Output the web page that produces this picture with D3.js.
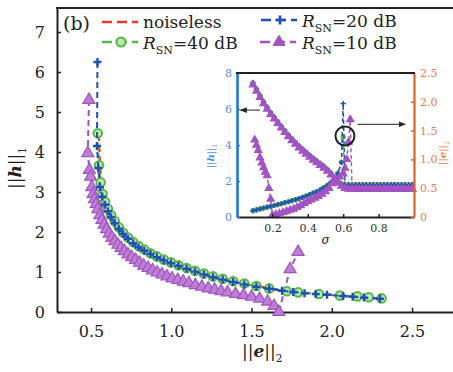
<!DOCTYPE html>
<html>
<head>
<meta charset="utf-8">
<script src="https://cdn.jsdelivr.net/npm/d3@7"></script>
<style>
  body { margin: 0; background: #fff; }
  svg { display: block; font-family: "DejaVu Serif", serif; }
</style>
</head>
<body>
<script>
const width = 453;
const height = 372;

// main plot: ||h||_1 against ||e||_2
const noiselessE = [0.548, 0.556, 0.566, 0.578, 0.595, 0.62, 0.66, 0.72, 0.8, 0.9, 1.0, 1.12, 1.26, 1.42, 1.6, 1.8, 2.0, 2.2, 2.3];
const noiselessH = [4.45, 3.65, 3.2, 2.92, 2.7, 2.5, 2.22, 1.92, 1.66, 1.42, 1.25, 1.08, 0.92, 0.73, 0.6, 0.49, 0.43, 0.37, 0.34];

const snr40E = [0.542, 0.55, 0.56, 0.572, 0.588, 0.605, 0.625, 0.648, 0.673, 0.7, 0.73, 0.762, 0.796, 0.832, 0.87, 0.91, 0.953, 0.998, 1.045, 1.095, 1.148, 1.203, 1.26, 1.32, 1.385, 1.455, 1.53, 1.61, 1.72, 1.79, 1.92, 2.05, 2.16, 2.23, 2.31];
const snr40H = [4.47, 3.67, 3.24, 2.95, 2.75, 2.58, 2.42, 2.27, 2.12, 1.98, 1.86, 1.75, 1.65, 1.56, 1.47, 1.39, 1.31, 1.24, 1.17, 1.1, 1.03, 0.96, 0.89, 0.83, 0.77, 0.71, 0.65, 0.59, 0.52, 0.49, 0.45, 0.41, 0.39, 0.37, 0.34];

const snr20E = [0.54, 0.537, 0.545, 0.556, 0.57, 0.587, 0.605, 0.625, 0.648, 0.673, 0.7, 0.73, 0.762, 0.796, 0.832, 0.87, 0.91, 0.953, 0.998, 1.045, 1.095, 1.148, 1.203, 1.26, 1.32, 1.385, 1.455, 1.53, 1.61, 1.69, 1.76, 1.83, 1.9, 1.97, 2.07, 2.13, 2.2, 2.3];
const snr20H = [6.25, 4.15, 3.6, 3.12, 2.88, 2.68, 2.52, 2.37, 2.22, 2.08, 1.95, 1.83, 1.72, 1.62, 1.53, 1.45, 1.37, 1.29, 1.22, 1.15, 1.08, 1.01, 0.94, 0.87, 0.81, 0.75, 0.69, 0.63, 0.58, 0.53, 0.5, 0.47, 0.45, 0.43, 0.4, 0.38, 0.36, 0.33];

const snr10E = [0.487, 0.48, 0.49, 0.497, 0.505, 0.513, 0.522, 0.532, 0.543, 0.555, 0.568, 0.582, 0.597, 0.613, 0.63, 0.648, 0.667, 0.687, 0.708, 0.73, 0.753, 0.777, 0.802, 0.828, 0.855, 0.883, 0.912, 0.942, 0.973, 1.005, 1.04, 1.075, 1.11, 1.15, 1.19, 1.23, 1.27, 1.31, 1.35, 1.4, 1.45, 1.5, 1.55, 1.6, 1.64, 1.67, 1.74, 1.79];
const snr10H = [5.3, 3.97, 3.55, 3.38, 3.12, 2.95, 2.82, 2.7, 2.57, 2.42, 2.3, 2.18, 2.07, 1.96, 1.86, 1.77, 1.68, 1.6, 1.52, 1.44, 1.37, 1.3, 1.23, 1.16, 1.1, 1.04, 0.99, 0.94, 0.89, 0.84, 0.8, 0.76, 0.72, 0.67, 0.63, 0.59, 0.56, 0.52, 0.49, 0.45, 0.42, 0.38, 0.33, 0.26, 0.15, 0.0, 1.07, 1.5];

const xTicks = [0.5, 1.0, 1.5, 2.0, 2.5];
const yTicks = [0, 1, 2, 3, 4, 5, 6, 7];

// inset: both norms against sigma
const inSigma = [0.09, 0.11, 0.13, 0.15, 0.17, 0.19, 0.21, 0.23, 0.25, 0.27, 0.29, 0.31, 0.33, 0.35, 0.37, 0.39, 0.41, 0.43, 0.45, 0.47, 0.49, 0.51, 0.53, 0.55, 0.57, 0.59, 0.61, 0.63, 0.65, 0.67, 0.69, 0.71, 0.73, 0.75, 0.77, 0.79, 0.81, 0.83, 0.85, 0.87, 0.89, 0.91, 0.93, 0.95, 0.97, 0.99];
const inH40 = [7.45, 7.1, 6.75, 6.4, 6.1, 5.8, 5.55, 5.3, 5.05, 4.8, 4.57, 4.35, 4.15, 3.95, 3.77, 3.6, 3.43, 3.27, 3.12, 2.97, 2.82, 2.65, 2.45, 2.22, 2.0, 1.85, 1.78, 1.78, 1.78, 1.78, 1.78, 1.78, 1.78, 1.78, 1.78, 1.78, 1.78, 1.78, 1.78, 1.78, 1.78, 1.78, 1.78, 1.78, 1.78, 1.78];
const inH10 = [7.35, 7.0, 6.65, 6.3, 6.0, 5.7, 5.45, 5.2, 4.95, 4.7, 4.47, 4.25, 4.05, 3.85, 3.67, 3.5, 3.33, 3.17, 3.02, 2.87, 2.72, 2.55, 2.35, 2.12, 1.9, 1.72, 1.6, 1.55, 1.55, 1.55, 1.55, 1.55, 1.55, 1.55, 1.55, 1.55, 1.55, 1.55, 1.55, 1.55, 1.55, 1.55, 1.55, 1.55, 1.55, 1.55];

const eSigma = [0.09, 0.11, 0.13, 0.15, 0.17, 0.19, 0.21, 0.23, 0.25, 0.27, 0.29, 0.31, 0.33, 0.35, 0.37, 0.39, 0.41, 0.43, 0.45, 0.47, 0.49, 0.51, 0.53, 0.55, 0.57, 0.59, 0.6, 0.61, 0.63, 0.65, 0.67, 0.69, 0.71, 0.73, 0.75, 0.77, 0.79, 0.81, 0.83, 0.85, 0.87, 0.89, 0.91, 0.93, 0.95, 0.97, 0.99];
const inE40 = [0.11, 0.125, 0.14, 0.155, 0.17, 0.185, 0.2, 0.215, 0.23, 0.25, 0.265, 0.285, 0.3, 0.32, 0.34, 0.365, 0.39, 0.415, 0.44, 0.47, 0.51, 0.55, 0.6, 0.66, 0.76, 0.95, 1.39, 0.556, 0.556, 0.556, 0.556, 0.556, 0.556, 0.556, 0.556, 0.556, 0.556, 0.556, 0.556, 0.556, 0.556, 0.556, 0.556, 0.556, 0.556, 0.556, 0.556];
const inE20 = [0.11, 0.125, 0.14, 0.155, 0.17, 0.185, 0.2, 0.215, 0.23, 0.25, 0.265, 0.285, 0.3, 0.32, 0.34, 0.365, 0.39, 0.415, 0.44, 0.47, 0.51, 0.55, 0.6, 0.66, 0.76, 0.95, 1.97, 0.556, 0.556, 0.556, 0.556, 0.556, 0.556, 0.556, 0.556, 0.556, 0.556, 0.556, 0.556, 0.556, 0.556, 0.556, 0.556, 0.556, 0.556, 0.556, 0.556];

const e10Sigma = [0.1, 0.11, 0.12, 0.13, 0.14, 0.15, 0.16, 0.17, 0.18, 0.19, 0.2, 0.22, 0.24, 0.26, 0.28, 0.3, 0.32, 0.34, 0.36, 0.38, 0.4, 0.42, 0.44, 0.46, 0.48, 0.5, 0.52, 0.54, 0.56, 0.58, 0.6, 0.61, 0.62, 0.63, 0.64, 0.65, 0.67, 0.69, 0.71, 0.73, 0.75, 0.77, 0.79, 0.81, 0.83, 0.85, 0.87, 0.89, 0.91, 0.93, 0.95, 0.97, 0.99];
const inE10 = [1.34, 1.25, 1.16, 1.03, 0.94, 0.86, 0.78, 0.72, 0.5, 0.31, 0.03, 0.04, 0.06, 0.08, 0.1, 0.12, 0.14, 0.17, 0.2, 0.24, 0.27, 0.3, 0.33, 0.36, 0.4, 0.44, 0.5, 0.58, 0.64, 0.7, 0.75, 0.85, 1.0, 1.3, 1.69, 0.485, 0.485, 0.485, 0.485, 0.485, 0.485, 0.485, 0.485, 0.485, 0.485, 0.485, 0.485, 0.485, 0.485, 0.485, 0.485, 0.485, 0.485];

const inXTicks = [0.2, 0.4, 0.6, 0.8];
const inLeftTicks = [0, 2, 4, 6, 8];
const inRightTicks = [0, 0.5, 1.0, 1.5, 2.0, 2.5];

const red = "#e8392b";
const green = "#55b947";
const blue = "#2350b8";
const purple = "#a352c4";
const axisBlue = "#1f78d1";
const orange = "#e0622d";
const ink = "#222";

const svg = d3
  .select("body")
  .append("svg")
  .attr("width", width)
  .attr("height", height);

const x = d3.scaleLinear().domain([0.288, 2.755]).range([57, 453]);
const y = d3.scaleLinear().domain([0, 7.6]).range([312, 8]);

// axes of the main plot
const xAxis = svg
  .append("g")
  .attr("transform", "translate(0,312)")
  .call(
    d3.axisBottom(x)
      .tickValues(xTicks)
      .tickFormat(d3.format(".1f"))
      .tickSizeInner(-4)
      .tickSizeOuter(0)
      .tickPadding(14)
  );
const yAxis = svg
  .append("g")
  .attr("transform", "translate(57,0)")
  .call(
    d3.axisLeft(y)
      .tickValues(yTicks)
      .tickSizeInner(-4)
      .tickSizeOuter(0)
      .tickPadding(12)
  );
[xAxis, yAxis].forEach((a) => {
  a.select(".domain").attr("stroke", ink).attr("stroke-width", 2);
  a.selectAll(".tick line").attr("stroke", ink).attr("stroke-width", 1.5);
  a.selectAll(".tick text")
    .attr("fill", ink)
    .attr("font-size", 16)
    .attr("font-family", "DejaVu Serif, serif");
});
svg.append("line")
  .attr("x1", 56).attr("x2", 453)
  .attr("y1", 8).attr("y2", 8)
  .attr("stroke", ink).attr("stroke-width", 2);

// ||v||_k label
function normLabel(t, sym, sub, size) {
  t.append("tspan").text("||");
  t.append("tspan").text(sym).attr("font-weight", "bold").attr("font-style", "italic");
  t.append("tspan").text("||");
  t.append("tspan").text(sub).attr("font-size", size * 0.62).attr("dy", size * 0.32);
}

const yLab = svg.append("text")
  .attr("transform", "translate(21,168) rotate(-90)")
  .attr("text-anchor", "middle")
  .attr("font-size", 17)
  .attr("fill", ink);
normLabel(yLab, "h", "1", 17);

const xLab = svg.append("text")
  .attr("x", 242).attr("y", 357)
  .attr("font-size", 17)
  .attr("fill", ink);
normLabel(xLab, "e", "2", 17);

// marks of the main plot
const line = d3.line().x((d) => x(d[0])).y((d) => y(d[1]));
const tri = (s) => d3.symbol().type(d3.symbolTriangle).size(s)();
const plus = (r) => `M${-r},0H${r}M0,${-r}V${r}`;

const p10 = d3.zip(snr10E, snr10H);
const p40 = d3.zip(snr40E, snr40H);
const p20 = d3.zip(snr20E, snr20H);
const p0 = d3.zip(noiselessE, noiselessH);

svg.append("path").datum(p10).attr("d", line)
  .attr("fill", "none").attr("stroke", purple).attr("stroke-width", 2).attr("stroke-dasharray", "6,4");
svg.append("g").selectAll("path").data(p10).join("path")
  .attr("transform", (d) => `translate(${x(d[0])},${y(d[1])})`)
  .attr("d", tri(62))
  .attr("fill", "#bd7fd4").attr("stroke", purple).attr("stroke-width", 1.2);

svg.append("path").datum(p0).attr("d", line)
  .attr("fill", "none").attr("stroke", red).attr("stroke-width", 2.2).attr("stroke-dasharray", "7,4");

svg.append("path").datum(p40).attr("d", line)
  .attr("fill", "none").attr("stroke", green).attr("stroke-width", 2).attr("stroke-dasharray", "6,4");
svg.append("g").selectAll("circle").data(p40).join("circle")
  .attr("cx", (d) => x(d[0])).attr("cy", (d) => y(d[1])).attr("r", 4.3)
  .attr("fill", "#bfe8ae").attr("stroke", green).attr("stroke-width", 2);

svg.append("path").datum(p20).attr("d", line)
  .attr("fill", "none").attr("stroke", blue).attr("stroke-width", 2).attr("stroke-dasharray", "6,4");
svg.append("g").selectAll("path").data(p20).join("path")
  .attr("transform", (d) => `translate(${x(d[0])},${y(d[1])})`)
  .attr("d", plus(4))
  .attr("stroke", blue).attr("stroke-width", 2.4);

// legend
svg.append("text").attr("x", 63).attr("y", 30).attr("font-size", 19).attr("fill", ink).text("(b)");

function legendKey(cx, cy, color, marker) {
  const g = svg.append("g");
  g.append("line").attr("x1", cx - 19).attr("x2", cx + 17).attr("y1", cy).attr("y2", cy)
    .attr("stroke", color).attr("stroke-width", 2.6).attr("stroke-dasharray", "10,5");
  if (marker === "circle") {
    g.append("circle").attr("cx", cx).attr("cy", cy).attr("r", 4.5)
      .attr("fill", "#bfe8ae").attr("stroke", color).attr("stroke-width", 2.2);
  } else if (marker === "plus") {
    g.append("path").attr("transform", `translate(${cx},${cy})`).attr("d", plus(4.5))
      .attr("stroke", color).attr("stroke-width", 2.6);
  } else if (marker === "tri") {
    g.append("path").attr("transform", `translate(${cx},${cy})`).attr("d", tri(60))
      .attr("fill", color).attr("stroke", color);
  }
}
function snrText(tx, ty, val) {
  const t = svg.append("text").attr("x", tx).attr("y", ty).attr("font-size", 17).attr("fill", ink);
  t.append("tspan").text("R").attr("font-style", "italic");
  t.append("tspan").text("SN").attr("font-size", 11).attr("dy", 5);
  t.append("tspan").text(`=${val} dB`).attr("dy", -5);
}
legendKey(121, 22, red, "none");
svg.append("text").attr("x", 143).attr("y", 28).attr("font-size", 17).attr("fill", ink).text("noiseless");
legendKey(121, 42, green, "circle");
snrText(143, 49, 40);
legendKey(280, 20, blue, "plus");
snrText(302, 27, 20);
legendKey(279, 42, purple, "tri");
snrText(302, 49, 10);

// inset
const ix = d3.scaleLinear().domain([0, 1]).range([237, 414]);
const iyL = d3.scaleLinear().domain([0, 8]).range([217, 73]);
const iyR = d3.scaleLinear().domain([0, 2.5]).range([217, 73]);

const inset = svg.append("g");
inset.append("rect").attr("x", 237).attr("y", 73).attr("width", 177).attr("height", 144).attr("fill", "#fff");

const lineL = d3.line().x((d) => ix(d[0])).y((d) => iyL(d[1]));
const lineR = d3.line().x((d) => ix(d[0])).y((d) => iyR(d[1]));

function insetSeries(pts, ln, scaleY, color, marker) {
  inset.append("path").datum(pts).attr("d", ln)
    .attr("fill", "none").attr("stroke", color).attr("stroke-width", 1.4).attr("stroke-dasharray", "4,3");
  const g = inset.append("g");
  if (marker === "circle") {
    g.selectAll("circle").data(pts).join("circle")
      .attr("cx", (d) => ix(d[0])).attr("cy", (d) => scaleY(d[1])).attr("r", 2.6)
      .attr("fill", color);
  } else if (marker === "plus") {
    g.selectAll("path").data(pts).join("path")
      .attr("transform", (d) => `translate(${ix(d[0])},${scaleY(d[1])})`)
      .attr("d", plus(2.6)).attr("stroke", color).attr("stroke-width", 1.5);
  } else {
    g.selectAll("path").data(pts).join("path")
      .attr("transform", (d) => `translate(${ix(d[0])},${scaleY(d[1])})`)
      .attr("d", tri(38)).attr("fill", color);
  }
}
insetSeries(d3.zip(inSigma, inH40), lineL, iyL, green, "circle");
insetSeries(d3.zip(eSigma, inE40), lineR, iyR, green, "circle");
insetSeries(d3.zip(inSigma, inH40), lineL, iyL, blue, "plus");
insetSeries(d3.zip(eSigma, inE20), lineR, iyR, blue, "plus");
insetSeries(d3.zip(inSigma, inH10), lineL, iyL, purple, "tri");
insetSeries(d3.zip(e10Sigma, inE10), lineR, iyR, purple, "tri");

// inset axes
const ixAxis = inset.append("g").attr("transform", "translate(0,217)")
  .call(d3.axisBottom(ix).tickValues(inXTicks).tickFormat(d3.format(".1f"))
    .tickSizeInner(-3).tickSizeOuter(0).tickPadding(7));
ixAxis.select(".domain").attr("stroke", ink).attr("stroke-width", 2.2);
ixAxis.selectAll(".tick line").attr("stroke", ink).attr("stroke-width", 1.5);
ixAxis.selectAll(".tick text").attr("fill", "#333").attr("font-size", 11).attr("font-family", "DejaVu Serif, serif");

const iyAxisL = inset.append("g").attr("transform", "translate(237,0)")
  .call(d3.axisLeft(iyL).tickValues(inLeftTicks).tickSizeInner(-3).tickSizeOuter(0).tickPadding(5));
iyAxisL.select(".domain").attr("stroke", axisBlue).attr("stroke-width", 2.6);
iyAxisL.selectAll(".tick line").attr("stroke", axisBlue).attr("stroke-width", 1.2);
iyAxisL.selectAll(".tick text").attr("fill", "#5592dc").attr("font-size", 11).attr("font-family", "DejaVu Serif, serif");

const iyAxisR = inset.append("g").attr("transform", "translate(414,0)")
  .call(d3.axisRight(iyR).tickValues(inRightTicks)
    .tickFormat((d) => (d === 0 ? "0" : d3.format(".1f")(d)))
    .tickSizeInner(-3).tickSizeOuter(0).tickPadding(6));
iyAxisR.select(".domain").attr("stroke", orange).attr("stroke-width", 2.2);
iyAxisR.selectAll(".tick line").attr("stroke", orange).attr("stroke-width", 1.5);
iyAxisR.selectAll(".tick text").attr("fill", "#e8804f").attr("font-size", 11).attr("font-family", "DejaVu Serif, serif");

inset.append("line").attr("x1", 236).attr("x2", 415).attr("y1", 73).attr("y2", 73)
  .attr("stroke", ink).attr("stroke-width", 2.2);

const iyLab = inset.append("text")
  .attr("transform", "translate(214,156) rotate(-90)")
  .attr("text-anchor", "middle").attr("font-size", 10).attr("fill", "#5592dc");
normLabel(iyLab, "h", "1", 10);
const ieLab = inset.append("text")
  .attr("transform", "translate(446,153) rotate(-90)")
  .attr("text-anchor", "middle").attr("font-size", 10).attr("fill", "#e8804f");
normLabel(ieLab, "e", "2", 10);
inset.append("text").attr("x", ix(0.5)).attr("y", 244).attr("text-anchor", "middle")
  .attr("font-size", 12).attr("font-style", "italic").attr("fill", ink).text("σ");

// annotations
const defs = svg.append("defs");
defs.append("marker").attr("id", "head").attr("viewBox", "0 0 10 10")
  .attr("refX", 9).attr("refY", 5).attr("markerWidth", 7).attr("markerHeight", 7)
  .attr("orient", "auto-start-reverse")
  .append("path").attr("d", "M0,1L10,5L0,9Z").attr("fill", ink);
inset.append("line")
  .attr("x1", ix(0.13)).attr("x2", ix(0.02)).attr("y1", iyL(5.94)).attr("y2", iyL(5.94))
  .attr("stroke", ink).attr("stroke-width", 1).attr("marker-end", "url(#head)");
inset.append("line")
  .attr("x1", ix(0.68)).attr("x2", ix(0.95)).attr("y1", iyL(5.15)).attr("y2", iyL(5.15))
  .attr("stroke", ink).attr("stroke-width", 1).attr("marker-end", "url(#head)");
inset.append("circle").attr("cx", ix(0.61)).attr("cy", iyL(4.5)).attr("r", 9.5)
  .attr("fill", "none").attr("stroke", ink).attr("stroke-width", 2);
</script>
</body>
</html>
